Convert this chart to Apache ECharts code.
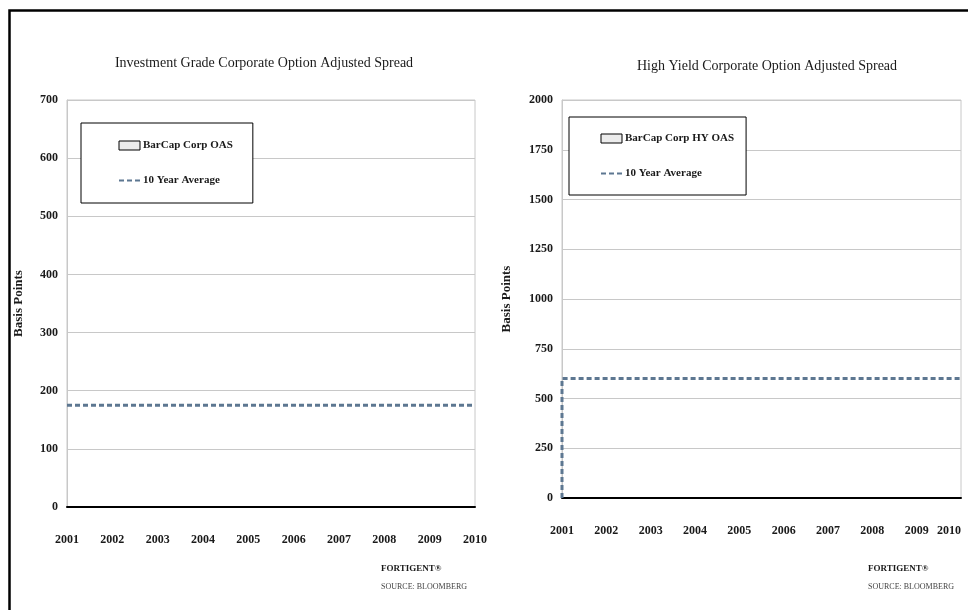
<!DOCTYPE html>
<html>
<head>
<meta charset="utf-8">
<script src="https://cdn.jsdelivr.net/npm/echarts@6/dist/echarts.min.js"></script>
<style>
  html, body { margin: 0; padding: 0; background: #fff; }
  #chart { width: 968px; height: 610px; }
</style>
</head>
<body>
<div id="chart"></div>
<script>
const years = ['2001', '2002', '2003', '2004', '2005', '2006', '2007', '2008', '2009', '2010'];

// investment grade panel
const igTicks = [0, 100, 200, 300, 400, 500, 600, 700];
const igOas = []; // no bars visible in the source picture
const igAverage = [175, 175, 175, 175, 175, 175, 175, 175, 175, 175];

// high yield panel
const hyTicks = [0, 250, 500, 750, 1000, 1250, 1500, 1750, 2000];
const hyOas = [];
const hyAverageStart = 0; // dashed line rises from zero at 2001
const hyAverage = [600, 600, 600, 600, 600, 600, 600, 600, 600, 600];

const serif = 'Liberation Serif';
const ink = '#1a1a1a';
const avgColor = '#5d7791';

const labelStyle = { fontFamily: serif, fontWeight: 'bold', fontSize: 12, color: ink };

function xAxisFor(gridIndex, alignMax) {
  return {
    type: 'category',
    gridIndex,
    data: years,
    boundaryGap: false,
    axisTick: { show: false },
    axisLine: { lineStyle: { color: '#000', width: 2 } },
    axisLabel: { ...labelStyle, margin: 27, interval: 0, alignMaxLabel: alignMax },
  };
}

function yAxisFor(gridIndex, ticks, nameGap) {
  return {
    type: 'value',
    gridIndex,
    min: ticks[0],
    max: ticks[ticks.length - 1],
    interval: ticks[1] - ticks[0],
    name: 'Basis Points',
    nameLocation: 'middle',
    nameRotate: 90,
    nameGap,
    nameTextStyle: { fontFamily: serif, fontWeight: 'bold', fontSize: 13, color: ink },
    axisLine: { show: true, lineStyle: { color: '#c8c8c8' } },
    axisTick: { show: false },
    axisLabel: { ...labelStyle, margin: 9, formatter: (v) => String(v) },
    splitLine: { lineStyle: { color: '#c8c8c8', width: 1 } },
  };
}

function legendFor(left, top, barName, padding) {
  return {
    orient: 'vertical',
    left,
    top,
    data: [
      { name: barName, icon: 'rect', itemStyle: { color: '#ececec', borderColor: '#000', borderWidth: 1 } },
      { name: '10 Year Average', itemStyle: { opacity: 0 } },
    ],
    padding,
    itemGap: 24,
    itemWidth: 21,
    itemHeight: 9,
    backgroundColor: '#fff',
    borderColor: '#000',
    borderWidth: 1,
    selectedMode: false,
    textStyle: { fontFamily: serif, fontWeight: 'bold', fontSize: 11, color: ink, padding: [0, 0, 0, -2] },
  };
}

const avgLine = { color: avgColor, width: 3, type: [5, 3] };
const oasItem = { color: '#ececec', borderColor: '#000', borderWidth: 1 };

const hyAvgPoints = [[years[0], hyAverageStart]].concat(years.map((y, i) => [y, hyAverage[i]]));

const option = {
  backgroundColor: '#fff',
  animation: false,
  title: [
    {
      text: 'Investment Grade Corporate Option Adjusted Spread',
      left: 259, top: 51, textAlign: 'center',
      textStyle: { fontFamily: serif, fontWeight: 'normal', fontSize: 14, color: ink },
    },
    {
      text: 'High Yield Corporate Option Adjusted Spread',
      left: 762, top: 54, textAlign: 'center',
      textStyle: { fontFamily: serif, fontWeight: 'normal', fontSize: 14, color: ink },
    },
  ],
  legend: [
    legendFor(81, 123, 'BarCap Corp OAS', [17, 20, 17, 37]),
    legendFor(569, 117, 'BarCap Corp HY OAS', [16, 12, 16, 31]),
  ],
  grid: [
    { left: 67, top: 100, width: 408, height: 407, outerBoundsMode: 'none', show: true, borderColor: '#c8c8c8', borderWidth: 1, backgroundColor: 'transparent' },
    { left: 562, top: 100, width: 399, height: 398, outerBoundsMode: 'none', show: true, borderColor: '#c8c8c8', borderWidth: 1, backgroundColor: 'transparent' },
  ],
  xAxis: [xAxisFor(0, null), xAxisFor(1, 'right')],
  yAxis: [yAxisFor(0, igTicks, 42), yAxisFor(1, hyTicks, 49)],
  series: [
    { name: 'BarCap Corp OAS', type: 'bar', xAxisIndex: 0, yAxisIndex: 0, data: igOas, itemStyle: oasItem },
    { name: '10 Year Average', type: 'line', xAxisIndex: 0, yAxisIndex: 0, data: igAverage, symbol: 'none', lineStyle: avgLine, itemStyle: { color: avgColor } },
    { name: 'BarCap Corp HY OAS', type: 'bar', xAxisIndex: 1, yAxisIndex: 1, data: hyOas, itemStyle: oasItem },
    { name: '10 Year Average', type: 'line', xAxisIndex: 1, yAxisIndex: 1, data: hyAvgPoints, symbol: 'none', lineStyle: avgLine, itemStyle: { color: avgColor } },
  ],
  graphic: [
    // outer frame (top and left edges, runs off the page)
    { type: 'rect', left: 7, top: 8, shape: { width: 1000, height: 700 }, style: { fill: 'none', stroke: '#000', lineWidth: 2.5 }, silent: true },
    { type: 'text', left: 381, top: 564, style: { text: 'FORTIGENT®', font: 'bold 9px "Liberation Serif"', fill: ink } },
    { type: 'text', left: 381, top: 583, style: { text: 'SOURCE: BLOOMBERG', font: '8px "Liberation Serif"', fill: '#444' } },
    { type: 'text', left: 868, top: 564, style: { text: 'FORTIGENT®', font: 'bold 9px "Liberation Serif"', fill: ink } },
    { type: 'text', left: 868, top: 583, style: { text: 'SOURCE: BLOOMBERG', font: '8px "Liberation Serif"', fill: '#444' } },
  ],
};

const myChart = echarts.init(document.getElementById('chart'), null, { renderer: 'canvas' });
myChart.setOption(option);
</script>
</body>
</html>
